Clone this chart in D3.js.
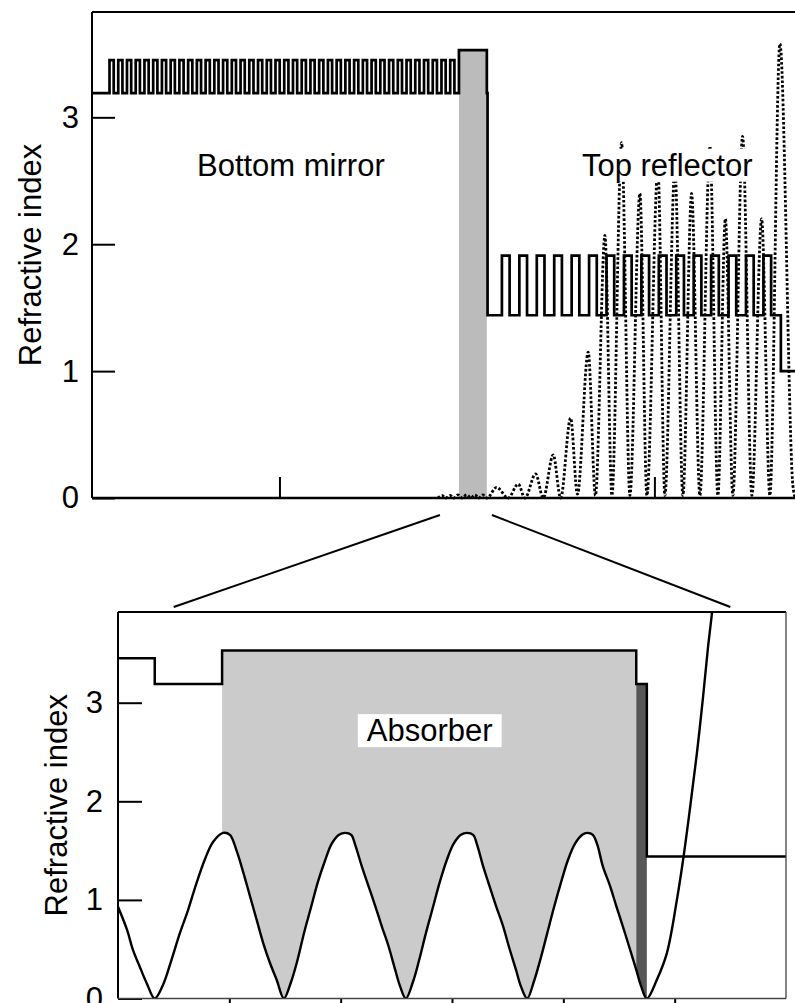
<!DOCTYPE html>
<html>
<head>
<meta charset="utf-8">
<script src="https://cdn.jsdelivr.net/npm/d3@7"></script>
<style>
  html, body { margin: 0; padding: 0; background: #fff; }
  svg { display: block; }
</style>
</head>
<body>
<svg id="chart" width="795" height="1003"></svg>
<script>
// ---------------------------------------------------------------
// Layer stack (thickness in nm, refractive index)
// ---------------------------------------------------------------
const mirrorIndex = [3.45, 3.19];          // bottom mirror: high, low
const mirrorThickness = [112, 121];
const mirrorPairs = 40;

const reflectorIndex = [1.91, 1.44];       // top reflector: high, low
const reflectorThickness = [205, 260];
const reflectorPairs = 16;

// single layers, in stacking order around the two mirrors
const substrateLayer = { name: "substrate", n: 3.19, d: 467 };
const middleLayerName = ["absorber", "cap", "spacer"];
const middleLayerIndex = [3.53, 3.19, 1.44];
const middleLayerThickness = [744, 19, 383];
const airLayer = { name: "air", n: 1.0, d: 377 };

// ---------------------------------------------------------------
// Standing-wave intensity, overview (position nm, value)
// ---------------------------------------------------------------
const overviewFieldPos = [9227, 9333, 9440, 9547, 9653, 9760, 9867, 9992, 10107, 10213,
  10320, 10427, 10533, 10792, 11101, 11368, 11547, 11832, 12035, 12301,
  12499, 12765, 12947, 13235, 13427, 13680, 13867, 14125, 14347, 14613,
  14800, 15093, 15280, 15547, 15760, 15992, 16213, 16480, 16693, 16893,
  17093, 17352, 17600, 17859, 18080, 18347, 18693, 18750];
const overviewFieldValue = [0, 0.02, 0, 0.02, 0, 0.025, 0, 0.025, 0, 0.025,
  0, 0.025, 0, 0.084, 0, 0.11, 0, 0.19, 0, 0.34,
  0, 0.63, 0.03, 1.15, 0.02, 2.07, 0.02, 2.8, 0.02, 2.4,
  0.02, 2.6, 0.02, 2.6, 0.02, 2.4, 0.02, 2.77, 0.02, 2.2,
  0.02, 2.85, 0.02, 2.2, 0.02, 3.58, 0.1, 0];

// Standing-wave intensity around the absorber (position nm, value)
const detailFieldPos = [9600, 9616, 9627, 9640, 9652, 9666, 9681, 9696, 9711, 9726,
  9741, 9756, 9771, 9789, 9801, 9813, 9825, 9837, 9849, 9861,
  9873, 9885, 9898, 9911, 9922, 9934, 9947, 9959, 9972, 9984,
  9997, 10008, 10019, 10026, 10038, 10050, 10062, 10074, 10086, 10098,
  10107, 10117, 10130, 10141, 10153, 10166, 10178, 10191, 10203, 10216,
  10227, 10238, 10245, 10256, 10268, 10279, 10292, 10302, 10315, 10324,
  10335, 10347, 10358, 10371, 10383, 10396, 10408, 10421, 10434, 10443,
  10453, 10461, 10471, 10484, 10495, 10507, 10518, 10531, 10540, 10550,
  10568, 10586, 10604, 10616, 10628, 10640, 10651, 10660, 10667, 10672];
const detailFieldValue = [0.93, 0.70, 0.49, 0.31, 0.15, 0.0, 0.14, 0.39, 0.66, 0.90,
  1.17, 1.41, 1.59, 1.68, 1.66, 1.50, 1.28, 1.04, 0.80, 0.56,
  0.36, 0.19, 0.0, 0.17, 0.38, 0.66, 0.93, 1.18, 1.40, 1.57,
  1.66, 1.68, 1.66, 1.56, 1.34, 1.14, 0.94, 0.73, 0.53, 0.29,
  0.12, 0.0, 0.17, 0.39, 0.66, 0.93, 1.18, 1.41, 1.57, 1.66,
  1.68, 1.66, 1.56, 1.34, 1.13, 0.94, 0.73, 0.53, 0.29, 0.12,
  0.0, 0.17, 0.38, 0.66, 0.92, 1.18, 1.40, 1.57, 1.66, 1.68,
  1.66, 1.56, 1.34, 1.14, 0.94, 0.73, 0.53, 0.29, 0.12, 0.0,
  0.19, 0.46, 1.0, 1.44, 1.95, 2.49, 3.06, 3.57, 3.91, 4.2];

// axis ticks
const yTickValues = [0, 1, 2, 3];
const overviewXTicks = [5000, 10000, 15000];
const detailXTicks = [9800, 10000, 10200, 10400, 10600];

// label texts
const yTitle = "Refractive index";
const labelBottomMirror = "Bottom mirror";
const labelTopReflector = "Top reflector";
const labelAbsorber = "Absorber";

// ---------------------------------------------------------------
// Build the layer list
// ---------------------------------------------------------------
const layers = [];
function pushLayer(name, n, d) { layers.push({ name, n, d }); }
pushLayer(substrateLayer.name, substrateLayer.n, substrateLayer.d);
for (let i = 0; i < mirrorPairs; i++) {
  pushLayer("mirror-high", mirrorIndex[0], mirrorThickness[0]);
  pushLayer("mirror-low", mirrorIndex[1], mirrorThickness[1]);
}
middleLayerName.forEach((nm, i) => pushLayer(nm, middleLayerIndex[i], middleLayerThickness[i]));
for (let i = 0; i < reflectorPairs; i++) {
  pushLayer("reflector-high", reflectorIndex[0], reflectorThickness[0]);
  pushLayer("reflector-low", reflectorIndex[1], reflectorThickness[1]);
}
pushLayer(airLayer.name, airLayer.n, airLayer.d);

let z = 0;
layers.forEach(l => { l.x0 = z; z += l.d; l.x1 = z; });
const totalDepth = z;
const absorber = layers.find(l => l.name === "absorber");
const cap = layers.find(l => l.name === "cap");

const stepPoints = [];
layers.forEach(l => { stepPoints.push([l.x0, l.n]); stepPoints.push([l.x1, l.n]); });

const overviewField = overviewFieldPos.map((p, i) => [p, overviewFieldValue[i]]);
const detailField = detailFieldPos.map((p, i) => [p, detailFieldValue[i]]);

// ---------------------------------------------------------------
// Drawing
// ---------------------------------------------------------------
const FONT = '"Liberation Sans", Arial, Helvetica, sans-serif';
const FS = 31;
const svg = d3.select("#chart").style("font-family", FONT);
const intFormat = d3.format("d");

// ---------- overview panel ----------
const xTop = d3.scaleLinear().domain([0, totalDepth]).range([92, 795]);
const yTop = d3.scaleLinear().domain([0, 3.83]).range([498, 12]);
const gTop = svg.append("g");

// inward ticks (drawn first so the absorber block hides the middle one)
const topXAxis = gTop.append("g")
  .attr("transform", `translate(0,${yTop(0)})`)
  .call(d3.axisBottom(xTop).tickValues(overviewXTicks).tickSize(-21).tickSizeOuter(0).tickFormat(""));
const topYAxis = gTop.append("g")
  .attr("transform", `translate(${xTop(0)},0)`)
  .call(d3.axisLeft(yTop).tickValues(yTickValues).tickSize(-23).tickSizeOuter(0)
    .tickPadding(13).tickFormat(intFormat));
[topXAxis, topYAxis].forEach(a => {
  a.select(".domain").remove();
  a.selectAll(".tick line").attr("stroke", "#000").attr("stroke-width", 2);
  a.selectAll(".tick text").attr("font-size", FS).attr("font-family", FONT).attr("fill", "#000");
});

// absorber block
gTop.append("rect")
  .attr("x", xTop(absorber.x0))
  .attr("y", yTop(absorber.n))
  .attr("width", xTop(absorber.x1) - xTop(absorber.x0))
  .attr("height", yTop(0) - yTop(absorber.n))
  .attr("fill", "#bbbbbb");

// frame
gTop.append("line").attr("x1", xTop(0)).attr("x2", xTop(0)).attr("y1", yTop(3.83)).attr("y2", yTop(0))
  .attr("stroke", "#000").attr("stroke-width", 2);
gTop.append("line").attr("x1", xTop(0)).attr("x2", xTop(totalDepth)).attr("y1", yTop(3.83)).attr("y2", yTop(3.83))
  .attr("stroke", "#000").attr("stroke-width", 2);
gTop.append("line").attr("x1", xTop(0)).attr("x2", xTop(totalDepth)).attr("y1", yTop(0)).attr("y2", yTop(0))
  .attr("stroke", "#000").attr("stroke-width", 2.4);

// refractive index profile
gTop.append("path")
  .datum(stepPoints)
  .attr("fill", "none").attr("stroke", "#000").attr("stroke-width", 2.7)
  .attr("stroke-linejoin", "miter")
  .attr("d", d3.line().x(d => xTop(d[0])).y(d => yTop(d[1])));

// field intensity (dotted)
gTop.append("path")
  .datum(overviewField)
  .attr("fill", "none").attr("stroke", "#000").attr("stroke-width", 2.8)
  .attr("stroke-dasharray", "2.6,2")
  .attr("d", d3.line().x(d => xTop(d[0])).y(d => yTop(d[1])).curve(d3.curveMonotoneX));

// text labels
function boxedLabel(g, text, x, y, anchor, padX, padY) {
  const grp = g.append("g");
  const rect = grp.append("rect").attr("fill", "#fff");
  const t = grp.append("text").attr("x", x).attr("y", y)
    .attr("text-anchor", anchor).attr("font-size", FS).attr("font-family", FONT)
    .attr("fill", "#000").text(text);
  const b = t.node().getBBox();
  rect.attr("x", b.x - padX).attr("y", b.y - padY)
    .attr("width", b.width + 2 * padX).attr("height", b.height + 2 * padY);
  return grp;
}
boxedLabel(gTop, labelBottomMirror, xTop(2800), yTop(2.54), "start", 0, 0);
boxedLabel(gTop, labelTopReflector, xTop(13067), yTop(2.54), "start", 0, -1);

gTop.append("text")
  .attr("transform", `translate(41,${(yTop(0) + yTop(3.83)) / 2}) rotate(-90)`)
  .attr("text-anchor", "middle").attr("font-size", FS).attr("font-family", FONT)
  .text(yTitle);

// ---------- detail panel ----------
const xBot = d3.scaleLinear().domain([9600, 10800]).range([118, 786]);
const yBot = d3.scaleLinear().domain([0, 3.92]).range([998.5, 612]);
const gBot = svg.append("g");

svg.append("clipPath").attr("id", "detailClip")
  .append("rect").attr("x", 118).attr("y", 612).attr("width", 668).attr("height", 386.5);

const plot = gBot.append("g").attr("clip-path", "url(#detailClip)");

// absorber and cap blocks
plot.append("rect")
  .attr("x", xBot(absorber.x0)).attr("y", yBot(absorber.n))
  .attr("width", xBot(absorber.x1) - xBot(absorber.x0))
  .attr("height", yBot(0) - yBot(absorber.n))
  .attr("fill", "#cbcbcb");
plot.append("rect")
  .attr("x", xBot(cap.x0)).attr("y", yBot(cap.n))
  .attr("width", xBot(cap.x1) - xBot(cap.x0))
  .attr("height", yBot(0) - yBot(cap.n))
  .attr("fill", "#575757");

// field: white underneath, black outline
const detailCurve = d3.curveCatmullRom.alpha(0.5);
plot.append("path")
  .datum(detailField)
  .attr("fill", "#fff")
  .attr("d", d3.area().x(d => xBot(d[0])).y0(yBot(0)).y1(d => yBot(d[1])).curve(detailCurve));
plot.append("path")
  .datum(detailField)
  .attr("fill", "none").attr("stroke", "#000").attr("stroke-width", 2.4)
  .attr("d", d3.line().x(d => xBot(d[0])).y(d => yBot(d[1])).curve(detailCurve));

// refractive index profile
plot.append("path")
  .datum(stepPoints.filter(p => p[0] >= 9000 && p[0] <= 11500))
  .attr("fill", "none").attr("stroke", "#000").attr("stroke-width", 2.5)
  .attr("d", d3.line().x(d => xBot(d[0])).y(d => yBot(d[1])));

// axes
const botYAxis = gBot.append("g")
  .attr("transform", `translate(${xBot(9600)},0)`)
  .call(d3.axisLeft(yBot).tickValues(yTickValues).tickSize(-24).tickSizeOuter(0)
    .tickPadding(15).tickFormat(intFormat));
const botXAxis = gBot.append("g")
  .attr("transform", `translate(0,${yBot(0)})`)
  .call(d3.axisBottom(xBot).tickValues(detailXTicks).tickSize(6).tickSizeOuter(0).tickFormat(""));
[botYAxis, botXAxis].forEach(a => {
  a.select(".domain").remove();
  a.selectAll(".tick line").attr("stroke", "#000").attr("stroke-width", 2);
  a.selectAll(".tick text").attr("font-size", FS).attr("font-family", FONT).attr("fill", "#000");
});

// frame
gBot.append("line").attr("x1", 118).attr("x2", 118).attr("y1", 612).attr("y2", 998.5)
  .attr("stroke", "#000").attr("stroke-width", 2);
gBot.append("line").attr("x1", 118).attr("x2", 786).attr("y1", 612).attr("y2", 612)
  .attr("stroke", "#000").attr("stroke-width", 2);
gBot.append("line").attr("x1", 786).attr("x2", 786).attr("y1", 612).attr("y2", 998.5)
  .attr("stroke", "#333").attr("stroke-width", 1.2);
gBot.append("line").attr("x1", 118).attr("x2", 786).attr("y1", 998.5).attr("y2", 998.5)
  .attr("stroke", "#444").attr("stroke-width", 1.5);

boxedLabel(gBot, labelAbsorber, xBot(10160), yBot(2.61), "middle", 9, -1);

gBot.append("text")
  .attr("transform", `translate(67,${(yBot(0) + yBot(3.92)) / 2}) rotate(-90)`)
  .attr("text-anchor", "middle").attr("font-size", FS).attr("font-family", FONT)
  .text(yTitle);

// ---------- zoom connectors ----------
const zoomWindowTop = [9280, 10667];
const zoomWindowBottom = [9700, 10700];
[0, 1].forEach(i => {
  svg.append("line")
    .attr("x1", xTop(zoomWindowTop[i])).attr("y1", yTop(0) + 17)
    .attr("x2", xBot(zoomWindowBottom[i])).attr("y2", yBot(3.92) - 5)
    .attr("stroke", "#000").attr("stroke-width", 2);
});
</script>
</body>
</html>
